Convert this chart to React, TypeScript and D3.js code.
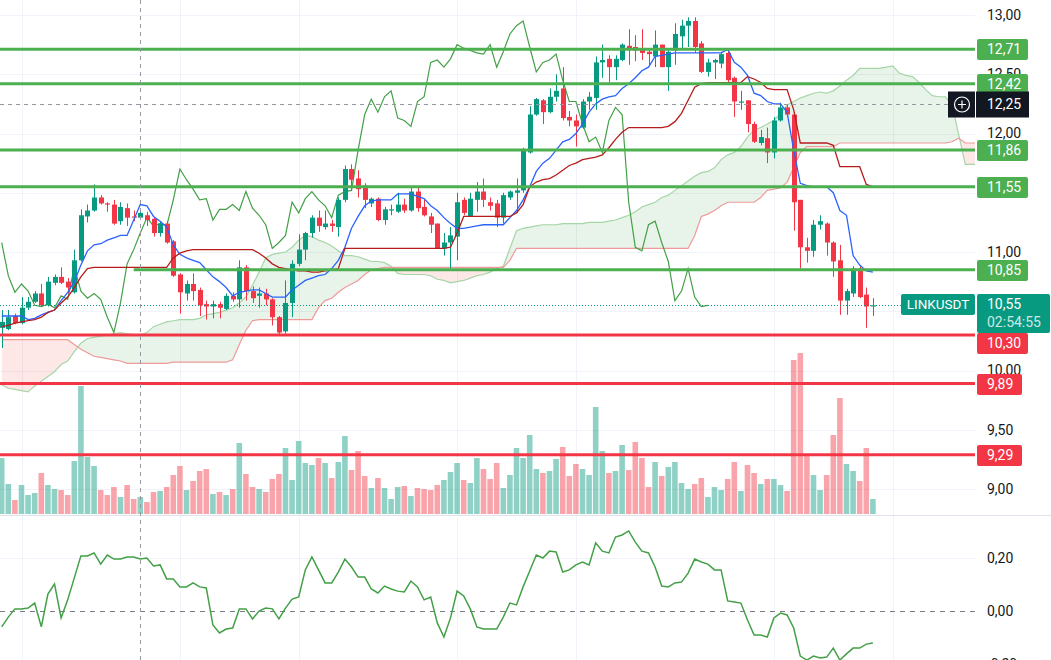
import { useEffect, useRef } from "react";
import * as d3 from "d3";

// LINKUSDT candles, oldest first
const opens = [10.36,10.35,10.46,10.40,10.53,10.58,10.65,10.55,10.74,10.79,
  10.75,10.66,10.93,11.30,11.35,11.46,11.41,11.40,11.26,11.37,
  11.30,11.29,11.31,11.28,11.16,11.24,11.09,10.81,10.65,10.73,
  10.68,10.56,10.54,10.56,10.52,10.63,10.60,10.87,10.67,10.63,
  10.65,10.60,10.45,10.33,10.57,10.90,11.02,11.16,11.29,11.21,
  11.24,11.21,11.44,11.70,11.62,11.56,11.41,11.45,11.27,11.35,
  11.34,11.40,11.35,11.51,11.38,11.30,11.24,11.03,11.08,11.13,
  11.44,11.30,11.44,11.51,11.42,11.41,11.29,11.46,11.50,11.52,
  11.84,12.16,12.28,12.18,12.31,12.38,12.14,12.11,12.05,12.27,
  12.30,12.60,12.63,12.56,12.62,12.74,12.73,12.71,12.69,12.65,
  12.75,12.56,12.70,12.82,12.91,12.95,12.76,12.52,12.60,12.59,
  12.68,12.47,12.26,12.28,12.08,11.92,11.96,11.84,12.11,12.22,
  12.16,11.44,11.04,11.01,11.23,11.24,11.08,10.93,10.59,10.65,
  10.86,10.64,10.54];
const highs = [10.51,10.51,10.48,10.62,10.62,10.67,10.73,10.79,10.81,10.87,
  10.78,11.02,11.36,11.40,11.57,11.48,11.42,11.44,11.42,11.41,
  11.35,11.34,11.34,11.29,11.26,11.26,11.10,10.82,10.76,10.82,
  10.70,10.59,10.59,10.58,10.65,10.66,10.93,10.89,10.71,10.70,
  10.69,10.61,10.46,10.76,10.93,11.15,11.17,11.31,11.35,11.35,
  11.27,11.46,11.73,11.74,11.69,11.58,11.46,11.46,11.38,11.40,
  11.50,11.45,11.55,11.55,11.44,11.33,11.24,11.16,11.21,11.50,
  11.46,11.50,11.59,11.62,11.46,11.44,11.50,11.52,11.62,11.88,
  12.23,12.30,12.29,12.38,12.50,12.56,12.19,12.16,12.29,12.35,
  12.65,12.75,12.66,12.66,12.76,12.88,12.83,12.88,12.71,12.87,
  12.75,12.71,12.93,12.96,12.98,12.98,12.78,12.63,12.63,12.69,
  12.71,12.48,12.36,12.28,12.10,12.03,12.05,12.14,12.26,12.24,
  12.18,11.44,11.12,11.27,11.31,11.25,11.09,11.06,10.69,10.88,
  10.88,10.70,10.61];
const lows = [10.19,10.34,10.39,10.39,10.51,10.57,10.54,10.54,10.72,10.73,
  10.65,10.65,10.92,11.25,11.34,11.40,11.34,11.23,11.23,11.22,
  11.26,11.27,11.22,11.13,11.13,11.07,10.79,10.48,10.59,10.59,
  10.46,10.43,10.44,10.44,10.51,10.58,10.53,10.59,10.57,10.53,
  10.55,10.38,10.30,10.31,10.45,10.88,10.93,11.12,11.17,11.19,
  11.17,11.13,11.42,11.52,11.46,11.37,11.38,11.26,11.23,11.31,
  11.33,11.33,11.34,11.34,11.30,11.16,11.03,10.97,10.86,10.93,
  11.31,11.30,11.34,11.38,11.35,11.21,11.24,11.44,11.33,11.50,
  11.83,12.15,12.08,12.17,12.27,12.11,12.06,11.89,12.04,12.20,
  12.20,12.47,12.43,12.45,12.61,12.58,12.61,12.62,12.58,12.56,
  12.56,12.36,12.58,12.72,12.73,12.68,12.51,12.48,12.46,12.55,
  12.42,12.14,12.20,12.01,11.92,11.90,11.75,11.79,12.10,12.14,
  11.18,10.86,10.91,10.96,11.19,10.97,10.79,10.47,10.47,10.62,
  10.61,10.36,10.46];
const closes = [10.41,10.45,10.40,10.53,10.58,10.65,10.55,10.75,10.79,10.74,
  10.70,10.93,11.31,11.35,11.46,11.41,11.40,11.24,11.38,11.29,
  11.29,11.33,11.27,11.16,11.24,11.08,10.80,10.66,10.73,10.67,
  10.55,10.54,10.56,10.53,10.63,10.60,10.87,10.67,10.61,10.65,
  10.60,10.45,10.32,10.57,10.90,11.02,11.16,11.29,11.22,11.24,
  11.22,11.44,11.70,11.61,11.53,11.44,11.45,11.27,11.36,11.36,
  11.40,11.35,11.51,11.37,11.31,11.23,11.03,11.08,11.14,11.42,
  11.33,11.45,11.51,11.44,11.39,11.29,11.48,11.51,11.52,11.86,
  12.16,12.29,12.18,12.31,12.36,12.13,12.11,12.06,12.27,12.31,
  12.60,12.62,12.56,12.63,12.75,12.72,12.70,12.68,12.67,12.75,
  12.56,12.69,12.84,12.91,12.95,12.73,12.52,12.60,12.62,12.67,
  12.45,12.27,12.27,12.08,11.93,11.97,11.84,12.11,12.22,12.16,
  11.42,11.04,11.01,11.23,11.26,11.08,10.92,10.59,10.67,10.86,
  10.62,10.54,10.55];
const volumes = [56,30,14,29,19,21,41,29,25,24,
  19,53,128,57,48,24,19,27,17,29,
  15,17,12,22,23,27,39,48,24,33,
  43,45,20,22,19,25,71,40,27,25,
  22,35,40,66,34,73,51,49,56,51,
  36,52,78,44,63,38,26,36,26,15,
  27,28,18,26,25,24,29,34,42,51,
  34,31,56,45,35,51,26,39,66,56,
  79,45,41,43,55,67,38,50,45,39,
  107,63,41,43,69,44,72,56,27,52,
  38,47,52,31,25,30,36,17,27,24,
  35,52,23,49,41,30,35,35,29,23,
  154,161,59,39,24,39,79,116,50,43,
  33,66,15];

// Ichimoku
const tenkan = [10.46,10.46,10.46,10.46,10.43,10.44,10.47,10.49,10.51,10.59,
  10.66,10.75,10.89,11.01,11.06,11.07,11.10,11.12,11.14,11.14,
  11.27,11.40,11.39,11.30,11.26,11.21,11.06,10.98,10.95,10.93,
  10.91,10.85,10.79,10.75,10.70,10.63,10.66,10.67,10.68,10.68,
  10.65,10.62,10.62,10.62,10.68,10.72,10.76,10.78,10.80,10.81,
  10.86,10.93,11.04,11.20,11.30,11.39,11.43,11.44,11.44,11.44,
  11.49,11.49,11.49,11.47,11.45,11.39,11.35,11.29,11.24,11.20,
  11.20,11.21,11.22,11.23,11.23,11.23,11.23,11.29,11.35,11.44,
  11.55,11.68,11.75,11.79,11.86,11.93,11.95,12.00,12.08,12.18,
  12.25,12.29,12.31,12.32,12.38,12.42,12.47,12.53,12.56,12.65,
  12.66,12.67,12.68,12.68,12.68,12.68,12.68,12.68,12.68,12.68,
  12.71,12.60,12.56,12.49,12.34,12.32,12.27,12.25,12.25,12.18,
  11.86,11.58,11.56,11.55,11.55,11.55,11.50,11.35,11.31,10.97,
  10.89,10.84,10.83];
const kijun = [10.37,10.38,10.40,10.41,10.42,10.43,10.45,10.49,10.51,10.57,
  10.62,10.70,10.79,10.86,10.87,10.87,10.87,10.87,10.87,10.87,
  10.87,10.87,10.87,10.87,10.87,10.87,10.95,10.99,11.01,11.02,
  11.02,11.02,11.02,11.02,11.02,11.02,11.02,11.02,11.02,10.99,
  10.95,10.90,10.87,10.86,10.85,10.84,10.84,10.83,10.83,10.84,
  10.85,10.86,11.03,11.03,11.03,11.03,11.03,11.03,11.03,11.03,
  11.03,11.03,11.03,11.03,11.03,11.03,11.03,11.03,11.04,11.16,
  11.30,11.30,11.30,11.30,11.30,11.30,11.30,11.30,11.33,11.40,
  11.55,11.59,11.61,11.62,11.65,11.69,11.73,11.75,11.78,11.79,
  11.80,11.82,11.88,11.95,12.01,12.05,12.05,12.05,12.05,12.05,
  12.05,12.06,12.10,12.17,12.28,12.39,12.42,12.43,12.43,12.43,
  12.43,12.43,12.43,12.48,12.46,12.43,12.38,12.37,12.37,12.37,
  12.20,11.92,11.92,11.92,11.92,11.92,11.90,11.72,11.72,11.72,
  11.72,11.57,11.55];
// leading spans, already shifted 25 bars forward (index = bar slot)
const senkouA = [9.88,9.85,9.84,9.83,9.82,9.87,9.91,9.95,9.99,10.05,
  10.08,10.16,10.23,10.27,10.28,10.29,10.30,10.31,10.32,10.31,
  10.30,10.30,10.32,10.37,10.39,10.41,10.42,10.43,10.43,10.43,
  10.44,10.47,10.48,10.49,10.51,10.53,10.57,10.62,10.72,10.83,
  10.95,10.98,10.99,11.00,11.04,11.10,11.14,11.13,11.10,11.08,
  11.05,11.01,10.97,10.97,10.96,10.94,10.92,10.92,10.91,10.88,
  10.82,10.81,10.81,10.81,10.81,10.80,10.77,10.76,10.74,10.75,
  10.76,10.78,10.80,10.81,10.83,10.86,10.88,11.03,11.18,11.20,
  11.21,11.22,11.23,11.23,11.23,11.24,11.24,11.24,11.24,11.25,
  11.25,11.25,11.26,11.27,11.29,11.31,11.34,11.38,11.40,11.42,
  11.46,11.48,11.52,11.56,11.60,11.64,11.67,11.68,11.71,11.78,
  11.82,11.84,11.89,11.97,12.03,12.05,12.08,12.11,12.17,12.24,
  12.27,12.30,12.32,12.34,12.35,12.34,12.36,12.40,12.45,12.49,
  12.55,12.55,12.55,12.55,12.56,12.57,12.51,12.49,12.48,12.43,
  12.37,12.32,12.31,12.31,12.24,11.99,11.74,11.74,11.74];
const senkouB = [10.26,10.26,10.26,10.26,10.26,10.26,10.26,10.26,10.26,10.26,
  10.26,10.22,10.18,10.15,10.12,10.11,10.10,10.09,10.08,10.06,
  10.06,10.06,10.06,10.06,10.06,10.06,10.07,10.07,10.07,10.07,
  10.07,10.07,10.07,10.07,10.07,10.09,10.22,10.34,10.42,10.43,
  10.43,10.43,10.43,10.43,10.43,10.43,10.43,10.43,10.53,10.59,
  10.61,10.66,10.70,10.73,10.76,10.81,10.85,10.86,10.87,10.87,
  10.87,10.87,10.87,10.87,10.87,10.87,10.87,10.87,10.87,10.87,
  10.87,10.87,10.87,10.87,10.87,10.87,10.87,10.93,11.03,11.03,
  11.03,11.03,11.03,11.03,11.03,11.03,11.03,11.03,11.03,11.03,
  11.03,11.03,11.03,11.03,11.03,11.03,11.03,11.03,11.03,11.03,
  11.03,11.03,11.03,11.03,11.03,11.14,11.30,11.32,11.35,11.39,
  11.42,11.42,11.42,11.42,11.42,11.46,11.52,11.53,11.54,11.59,
  11.71,11.84,11.89,11.89,11.89,11.89,11.89,11.92,11.92,11.92,
  11.92,11.92,11.92,11.92,11.92,11.92,11.92,11.92,11.92,11.92,
  11.92,11.92,11.92,11.92,11.93,11.96,11.92,11.92,11.92];
const CHIKOU_SHIFT = 25;

// lower pane oscillator
const oscillator = [-0.060,-0.023,0.008,0.008,0.011,0.030,-0.060,0.064,0.102,-0.026,
  0.042,0.125,0.208,0.208,0.219,0.177,0.211,0.196,0.196,0.204,
  0.204,0.196,0.200,0.170,0.174,0.121,0.121,0.091,0.091,0.106,
  0.091,0.087,-0.053,-0.083,-0.068,-0.064,0.008,0.008,-0.030,0.000,
  0.011,0.008,-0.030,0.011,0.045,0.053,0.155,0.204,0.155,0.106,
  0.106,0.147,0.196,0.166,0.128,0.128,0.083,0.068,0.094,0.083,
  0.075,0.072,0.113,0.091,0.042,0.053,-0.045,-0.098,-0.026,0.075,
  0.057,0.008,-0.060,-0.068,-0.068,-0.068,-0.023,0.030,0.023,0.091,
  0.151,0.211,0.200,0.226,0.223,0.147,0.155,0.174,0.185,0.174,
  0.257,0.226,0.219,0.279,0.287,0.302,0.260,0.226,0.219,0.166,
  0.094,0.091,0.106,0.109,0.143,0.196,0.185,0.177,0.155,0.155,
  0.038,0.034,0.030,-0.034,-0.091,-0.091,-0.098,-0.026,-0.008,-0.015,
  -0.064,-0.170,-0.185,-0.170,-0.177,-0.174,-0.140,-0.185,-0.162,-0.140,
  -0.140,-0.125,-0.121];

// drawn support / resistance levels (from = first bar of the ray)
const greenLevels = [12.71, 12.42, 11.86, 11.55, 10.85];
const greenFrom = [0, 0, 0, 0, 20];
const redLevels = [10.30, 9.89, 9.29];

const priceTicks = [13, 12.5, 12, 11.5, 11, 10.5, 10, 9.5, 9];
const oscTicks = [0.2, 0, -0.2];
const timeGridBars = [3, 27, 45, 69, 87, 117, 135];
const symbol = "LINKUSDT";
const lastPrice = 10.55;
const countdown = "02:54:55";
const crossBar = 21;
const crossPrice = 12.25;

const W = 1051;
const H = 660;
const PLOT_R = 975;
const MAIN_B = 515;

const UP = "#089981";
const DOWN = "#F23645";
const LVL_GREEN = "#4CAF50";
const FONT = "Roboto, 'Noto Sans', sans-serif";

const fmt = (v: number) => v.toFixed(2).replace(".", ",").replace("-0,00", "0,00");

export default function App() {
  const svgRef = useRef<SVGSVGElement>(null);

  useEffect(() => {
    const svg = d3.select(svgRef.current);
    svg.selectAll("*").remove();

    const n = closes.length;
    const x = d3.scaleLinear().domain([0, n - 1]).range([1.7, 872.9]);
    const y = d3.scaleLinear().domain([9, 13]).range([489, 15]);
    const yVol = d3.scaleLinear().domain([0, d3.max(volumes) as number]).range([514, 353]);
    const yOsc = d3.scaleLinear().domain([-0.2, 0.2]).range([664, 558]);

    const defs = svg.append("defs");
    defs.append("clipPath").attr("id", "clip-main")
      .append("rect").attr("x", 0).attr("y", 0).attr("width", PLOT_R).attr("height", MAIN_B);
    defs.append("clipPath").attr("id", "clip-osc")
      .append("rect").attr("x", 0).attr("y", MAIN_B + 1).attr("width", PLOT_R).attr("height", H - MAIN_B);

    // grid
    const grid = svg.append("g").attr("stroke", "#F0F3FA").attr("stroke-width", 1);
    priceTicks.forEach((p) => {
      grid.append("line").attr("x1", 0).attr("x2", PLOT_R)
        .attr("y1", Math.round(y(p)) + 0.5).attr("y2", Math.round(y(p)) + 0.5);
    });
    grid.append("line").attr("x1", 0).attr("x2", PLOT_R)
      .attr("y1", Math.round(yOsc(0.2)) + 0.5).attr("y2", Math.round(yOsc(0.2)) + 0.5);
    timeGridBars.forEach((b) => {
      grid.append("line").attr("x1", Math.round(x(b)) + 0.5).attr("x2", Math.round(x(b)) + 0.5)
        .attr("y1", 0).attr("y2", H);
    });

    svg.append("line").attr("x1", 0).attr("x2", W).attr("y1", MAIN_B + 0.5).attr("y2", MAIN_B + 0.5)
      .attr("stroke", "#E0E3EB");

    const main = svg.append("g").attr("clip-path", "url(#clip-main)");

    // kumo cloud
    const idx = d3.range(senkouA.length);
    defs.append("clipPath").attr("id", "above-b").append("path")
      .attr("d", d3.area<number>().x((i) => x(i)).y0(-10).y1((i) => y(senkouB[i]))(idx) as string);
    defs.append("clipPath").attr("id", "below-b").append("path")
      .attr("d", d3.area<number>().x((i) => x(i)).y0((i) => y(senkouB[i])).y1(H + 10)(idx) as string);
    const band = d3.area<number>().x((i) => x(i)).y0((i) => y(senkouB[i])).y1((i) => y(senkouA[i]));
    main.append("path").attr("d", band(idx) as string).attr("fill", "rgba(67,160,71,0.12)")
      .attr("clip-path", "url(#above-b)");
    main.append("path").attr("d", band(idx) as string).attr("fill", "rgba(244,67,54,0.12)")
      .attr("clip-path", "url(#below-b)");
    const lineOf = (arr: number[]) => d3.line<number>().x((i) => x(i)).y((i) => y(arr[i]));
    main.append("path").attr("d", lineOf(senkouA)(idx) as string)
      .attr("fill", "none").attr("stroke", "#A5D6A7").attr("stroke-width", 1.2);
    main.append("path").attr("d", lineOf(senkouB)(idx) as string)
      .attr("fill", "none").attr("stroke", "#EF9A9A").attr("stroke-width", 1.2);

    // volume
    const bars = d3.range(n);
    main.selectAll(".vol").data(bars).enter().append("rect")
      .attr("x", (i) => x(i) - 2.8).attr("width", 5.6)
      .attr("y", (i) => yVol(volumes[i])).attr("height", (i) => yVol(0) - yVol(volumes[i]))
      .attr("fill", (i) => (closes[i] >= opens[i] ? "rgba(8,153,129,0.45)" : "rgba(242,54,69,0.45)"));

    // chikou
    const lag = d3.range(CHIKOU_SHIFT, n);
    main.append("path")
      .attr("d", d3.line<number>().x((i) => x(i - CHIKOU_SHIFT)).y((i) => y(closes[i]))(lag) as string)
      .attr("fill", "none").attr("stroke", "#43A047").attr("stroke-width", 1.2);

    // candles
    const c = main.selectAll(".candle").data(bars).enter().append("g");
    c.append("line")
      .attr("x1", (i) => Math.round(x(i)) + 0.5).attr("x2", (i) => Math.round(x(i)) + 0.5)
      .attr("y1", (i) => y(highs[i])).attr("y2", (i) => y(lows[i]))
      .attr("stroke", (i) => (closes[i] >= opens[i] ? UP : DOWN));
    c.append("rect")
      .attr("x", (i) => Math.round(x(i)) - 2).attr("width", 5)
      .attr("y", (i) => y(Math.max(opens[i], closes[i])))
      .attr("height", (i) => Math.max(1, Math.abs(y(opens[i]) - y(closes[i]))))
      .attr("fill", (i) => (closes[i] >= opens[i] ? UP : DOWN));

    // tenkan / kijun
    main.append("path").attr("d", lineOf(tenkan)(bars) as string)
      .attr("fill", "none").attr("stroke", "#2962FF").attr("stroke-width", 1.3);
    main.append("path").attr("d", lineOf(kijun)(bars) as string)
      .attr("fill", "none").attr("stroke", "#B71C1C").attr("stroke-width", 1.3);

    // level rays
    greenLevels.forEach((p, k) => {
      main.append("line").attr("x1", greenFrom[k] ? x(greenFrom[k]) : 0).attr("x2", PLOT_R)
        .attr("y1", y(p)).attr("y2", y(p)).attr("stroke", LVL_GREEN).attr("stroke-width", 3);
    });
    redLevels.forEach((p) => {
      main.append("line").attr("x1", 0).attr("x2", PLOT_R)
        .attr("y1", y(p)).attr("y2", y(p)).attr("stroke", DOWN).attr("stroke-width", 3);
    });

    // last price line
    svg.append("line").attr("x1", 0).attr("x2", 901)
      .attr("y1", Math.round(y(lastPrice)) + 0.5).attr("y2", Math.round(y(lastPrice)) + 0.5)
      .attr("stroke", UP).attr("stroke-dasharray", "1,2");

    // oscillator pane
    const osc = svg.append("g").attr("clip-path", "url(#clip-osc)");
    osc.append("line").attr("x1", 0).attr("x2", PLOT_R)
      .attr("y1", Math.round(yOsc(0)) + 0.5).attr("y2", Math.round(yOsc(0)) + 0.5)
      .attr("stroke", "#787B86").attr("stroke-dasharray", "5,5");
    osc.append("path")
      .attr("d", d3.line<number>().x((i) => x(i)).y((i) => yOsc(oscillator[i]))(bars) as string)
      .attr("fill", "none").attr("stroke", "#43A047").attr("stroke-width", 1.5);

    // crosshair
    const cx = Math.round(x(crossBar)) + 0.5;
    const cy = Math.round(y(crossPrice)) + 0.5;
    svg.append("line").attr("x1", cx).attr("x2", cx).attr("y1", 0).attr("y2", H)
      .attr("stroke", "#9598A1").attr("stroke-dasharray", "4,4");
    svg.append("line").attr("x1", 0).attr("x2", 948).attr("y1", cy).attr("y2", cy)
      .attr("stroke", "#9598A1").attr("stroke-dasharray", "4,4");

    // price-scale tags (computed first so hidden tick labels can be skipped)
    const priceTop = Math.round(y(lastPrice)) - 11;
    const priceBottom = priceTop + 39;
    const tags: { top: number; txt: string; color: string }[] = [];
    greenLevels.forEach((p) => tags.push({ top: Math.round(y(p)) - 10, txt: fmt(p), color: LVL_GREEN }));
    redLevels.forEach((p) => {
      let top = Math.round(y(p)) - 10;
      if (top < priceBottom && top + 21 > priceTop) top = priceBottom;
      tags.push({ top, txt: fmt(p), color: DOWN });
    });
    const covers = [...tags.map((t) => [t.top, t.top + 21]), [priceTop, priceBottom]];

    // axis labels
    const axis = svg.append("g").attr("font-family", FONT).attr("font-size", 14).attr("fill", "#131722");
    priceTicks.forEach((p) => {
      const py = y(p);
      if (covers.some(([a, b]) => py > a + 3 && py < b - 3)) return;
      axis.append("text").attr("x", 987).attr("y", py).attr("dy", "0.35em").text(fmt(p));
    });
    oscTicks.forEach((v) => {
      axis.append("text").attr("x", 987).attr("y", yOsc(v)).attr("dy", "0.35em").text(fmt(v));
    });

    tags.forEach((t) => {
      const w = t.txt.length > 4 ? 51 : 45;
      svg.append("rect").attr("x", 977).attr("y", t.top).attr("width", w).attr("height", 21)
        .attr("rx", 2).attr("fill", t.color);
      svg.append("text").attr("x", 987).attr("y", t.top + 10.5).attr("dy", "0.35em")
        .attr("font-family", FONT).attr("font-size", 14).attr("fill", "#fff").text(t.txt);
    });

    // crosshair price tag
    svg.append("rect").attr("x", 948).attr("y", cy - 13).attr("width", 27).attr("height", 26).attr("fill", "#131722");
    svg.append("rect").attr("x", 976).attr("y", cy - 13).attr("width", 53).attr("height", 26).attr("fill", "#131722");
    svg.append("circle").attr("cx", 962).attr("cy", cy).attr("r", 7.5)
      .attr("fill", "none").attr("stroke", "#fff").attr("stroke-width", 1.2);
    svg.append("path").attr("d", `M962,${cy - 4}V${cy + 4}M958,${cy}H966`)
      .attr("stroke", "#fff").attr("stroke-width", 1.2);
    svg.append("text").attr("x", 987).attr("y", cy).attr("dy", "0.35em")
      .attr("font-family", FONT).attr("font-size", 14).attr("fill", "#fff").text(fmt(crossPrice));

    // last price tags
    svg.append("rect").attr("x", 901).attr("y", priceTop).attr("width", 74).attr("height", 21)
      .attr("rx", 2).attr("fill", UP);
    svg.append("text").attr("x", 938).attr("y", priceTop + 10.5).attr("dy", "0.35em")
      .attr("text-anchor", "middle").attr("font-family", FONT).attr("font-size", 13.5)
      .attr("fill", "#fff").text(symbol);
    svg.append("rect").attr("x", 977).attr("y", priceTop).attr("width", 73).attr("height", 39)
      .attr("rx", 2).attr("fill", UP);
    svg.append("text").attr("x", 987).attr("y", priceTop + 10.5).attr("dy", "0.35em")
      .attr("font-family", FONT).attr("font-size", 14).attr("fill", "#fff").text(fmt(lastPrice));
    svg.append("text").attr("x", 987).attr("y", priceTop + 28.5).attr("dy", "0.35em")
      .attr("font-family", FONT).attr("font-size", 14).attr("fill", "rgba(255,255,255,0.8)").text(countdown);
  }, []);

  return (
    <svg
      ref={svgRef}
      width={W}
      height={H}
      style={{ position: "absolute", left: 0, top: 0, background: "#fff" }}
    />
  );
}
